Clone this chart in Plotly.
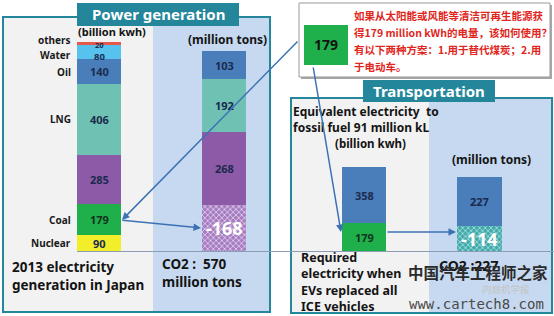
import plotly.graph_objects as go

# ------------------------------------------------------------------ data
gen_sources = ["Nuclear", "Coal (replaceable)", "Coal", "LNG", "Oil", "Water", "others"]
gen_side_labels = ["Nuclear", "Coal", "", "LNG", "Oil", "Water", "others"]
gen_values = [90, 179, 285, 406, 140, 80, 20]          # billion kWh, Japan 2013

co2_sources = ["Coal (avoided)", "Coal", "LNG", "Oil"]
co2_values = [-168, 268, 192, 103]                    # million tons CO2
co2_total = 570

ev_parts = ["Renewable supply", "Additional demand"]
ev_values = [179, 358]                                # billion kWh
ev_co2_parts = ["Avoided", "Remaining"]
ev_co2_values = [-114, 227]                           # million tons CO2
ev_co2_total = 227

callout_value = 179
callout_lines = [
    "如果从太阳能或风能等清洁可再生能源获",
    "得179 million kWh的电量，该如何使用？",
    "有以下两种方案：1.用于替代煤炭；2.用",
    "于电动车。",
]

# ------------------------------------------------------------------ styles
W, H = 554, 316
EN = "Noto Sans"
CJK = "Noto Sans CJK SC"
TEAL = "#23869b"
NAVY = "#1b2a4e"
ARROW = "#3c72b4"

gen_colors = ["#f2ee2a", "#1fb04c", "#8c5aa6", "#6fc2b3", "#4a7ebb", "#57c2ee", "#e4584d"]
gen_text_colors = [NAVY, "#12331d", NAVY, NAVY, NAVY, NAVY, NAVY]
co2_colors = ["#a67cc0", "#8c5aa6", "#6fc2b3", "#4a7ebb"]
ev_colors = ["#1fb04c", "#4a7ebb"]
ev_co2_colors = ["#40aaaa", "#4a7ebb"]
# small label tweaks for thin segments of the generation bar (font size, y shift in px)
gen_label_tweaks = {6: (7.5, -1), 5: (9.5, -4)}
side_label_shift = {"others": 4, "Water": -3}


def px(x):
    return x / W


def py(y):
    return 1 - y / H


fig = go.Figure()
annotations = []
shapes = []


def add_stack(values, colors, text_colors, axis_id, hatch_fg=None, tweaks=None):
    tweaks = tweaks or {}
    xa = "x" if axis_id == 1 else f"x{axis_id}"
    ya = "y" if axis_id == 1 else f"y{axis_id}"
    base = 0
    centers = []
    for i, v in enumerate(values):
        h = abs(v)
        marker = dict(color=colors[i], line=dict(width=0))
        if v < 0 and hatch_fg:
            marker["pattern"] = dict(shape="x", fillmode="replace", bgcolor=colors[i],
                                     fgcolor=hatch_fg, size=4, solidity=0.35)
        fig.add_trace(go.Bar(x=[0], y=[h], marker=marker, xaxis=xa, yaxis=ya,
                             hoverinfo="skip", showlegend=False))
        c = base + h / 2
        centers.append(c)
        neg = v < 0
        size, shift = tweaks.get(i, (18 if neg else 11, 0))
        annotations.append(dict(
            x=0, y=c, xref=xa, yref=ya, text=str(v), showarrow=False, yshift=shift,
            font=dict(family=EN, size=size,
                      color="white" if neg else text_colors[i], weight="bold"),
            xanchor="center", yanchor="middle"))
        base += h
    return centers


def txt(x, y, s, size, color="#141414", anchor="left", family=EN, bold=True):
    annotations.append(dict(
        x=px(x), y=py(y), xref="paper", yref="paper", text=s, showarrow=False,
        font=dict(family=family, size=size, color=color, weight="bold" if bold else "normal"),
        xanchor=anchor, yanchor="middle", align="left"))


def rect(x0, y0, x1, y1, fill=None, line=None, lw=0, layer="below"):
    shapes.append(dict(type="rect", xref="paper", yref="paper",
                       x0=px(x0), x1=px(x1), y0=py(y1), y1=py(y0),
                       fillcolor=fill or "rgba(0,0,0,0)",
                       line=dict(color=line or "rgba(0,0,0,0)", width=lw), layer=layer))


def arrow(tx, ty, hx, hy):
    annotations.append(dict(
        x=px(hx), y=py(hy), xref="paper", yref="paper", ax=tx - hx, ay=ty - hy,
        axref="pixel", ayref="pixel", text="", showarrow=True, arrowhead=2,
        arrowsize=1, arrowwidth=1.5, arrowcolor=ARROW, standoff=0))


# ------------------------------------------------------------------ panels
rect(4, 17, 153, 312, fill="#f2f2f2")
rect(153, 17, 269, 312, fill="#c6d9f0")
rect(3, 17, 270, 312, line=TEAL, lw=2)
rect(292, 99, 429, 312, fill="#f2f2f2")
rect(429, 99, 551, 312, fill="#c6d9f0")
rect(291, 98, 552, 313, line=TEAL, lw=2)
rect(77, 3, 239, 26, fill=TEAL)
rect(363, 80, 495, 102, fill=TEAL)
shapes.append(dict(type="line", xref="paper", yref="paper", x0=px(77), x1=px(554),
                   y0=py(251.5), y1=py(251.5), line=dict(color="#8a9db3", width=1), layer="above"))
# callout box
rect(301, 5, 552, 79, fill="#a8a8a8", layer="above")
rect(299, 3, 550, 77, fill="white", line="#9a9a9a", lw=1, layer="above")
rect(304, 25, 348, 65, fill="#1fb04c", layer="above")

# ------------------------------------------------------------------ bars
gen_centers = add_stack(gen_values, gen_colors, gen_text_colors, 1, tweaks=gen_label_tweaks)
add_stack(co2_values, co2_colors, [NAVY] * 4, 2, hatch_fg="#e6d8ef")
add_stack(ev_values, ev_colors, ["#12331d", NAVY], 3)
add_stack(ev_co2_values, ev_co2_colors, [NAVY] * 2, 4, hatch_fg="#b5e2e2")

for lab, c in zip(gen_side_labels, gen_centers):
    if lab:
        annotations.append(dict(x=px(73), y=c, xref="paper", yref="y", text=lab,
                                showarrow=False, xanchor="right", yanchor="middle",
                                yshift=side_label_shift.get(lab, 0),
                                font=dict(family=EN, size=10, color="#1a1a1a", weight="bold")))

# ------------------------------------------------------------------ text
txt(158, 14, "Power generation", 15, "white", "center")
txt(429, 91, "Transportation", 15, "white", "center")
txt(112, 32, "(billion kwh)", 11, anchor="center")
txt(227, 39, "(million tons)", 12, anchor="center")
txt(10, 276, "2013 electricity<br>generation in Japan", 13.5)
txt(160, 273, f"CO2 :  {co2_total}<br>million tons", 13.5)
txt(291, 119, "Equivalent electricity  to<br>fossil fuel 91 million kL", 12)
txt(370, 143, "(billion kwh)", 11.5, anchor="center")
txt(491, 159, "(million tons)", 12, anchor="center")
txt(299, 281.5, "Required<br>electricity when<br>EVs replaced all<br>ICE vehicles", 12.5)
txt(437, 265, f"CO2 :{ev_co2_total}", 14)
txt(326, 45, str(callout_value), 14, anchor="center")
for i, s in enumerate(callout_lines):
    txt(352, 15 + i * 17.2, s, 10.5, "#e0261d", family=CJK)
# watermark (overlaps "CO2 :227" as in the original)
txt(478, 272, "中国汽车工程师之家", 15.5, "#2b2b2b", "center", family=CJK)
txt(506, 288.5, "内燃机学报", 9.5, "#c4c4c4", "center", family=CJK, bold=False)
txt(476, 304, "www.cartech8.com", 14, "#4a4a4a", "center", family="DejaVu Sans Mono", bold=False)

# ------------------------------------------------------------------ arrows
arrow(299, 40, 122, 220)
arrow(121, 220, 201, 228)
arrow(313, 66, 341, 232)
arrow(386, 232, 456, 232)

# ------------------------------------------------------------------ axes
axes_px = {1: (77, 121, 42), 2: (202, 246, 51), 3: (342, 386, 167), 4: (457, 502, 177)}
totals = {1: sum(abs(v) for v in gen_values), 2: sum(abs(v) for v in co2_values),
          3: sum(abs(v) for v in ev_values), 4: sum(abs(v) for v in ev_co2_values)}
layout_axes = {}
for k, (x0, x1, ytop) in axes_px.items():
    sx = "" if k == 1 else str(k)
    layout_axes[f"xaxis{sx}"] = dict(domain=[px(x0), px(x1)], range=[-0.5, 0.5], visible=False,
                                     anchor=f"y{sx}", fixedrange=True)
    layout_axes[f"yaxis{sx}"] = dict(domain=[py(251), py(ytop)], range=[0, totals[k]], visible=False,
                                     anchor=f"x{sx}", fixedrange=True)

fig.update_layout(
    width=W, height=H, margin=dict(l=0, r=0, t=0, b=0),
    paper_bgcolor="white", plot_bgcolor="rgba(0,0,0,0)",
    barmode="stack", bargap=0, showlegend=False,
    shapes=shapes, annotations=annotations, **layout_axes)

fig.write_html("out.html", config={"displayModeBar": False})
